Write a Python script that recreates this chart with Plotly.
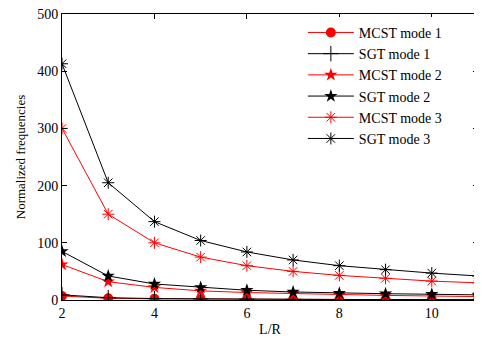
import plotly.graph_objects as go

LR = [2, 3, 4, 5, 6, 7, 8, 9, 10, 11]
mcst_mode1 = [7, 3, 2, 1.5, 1.2, 1.0, 0.8, 0.7, 0.6, 0.5]
sgt_mode1 = [9, 4, 2.5, 1.8, 1.4, 1.1, 0.9, 0.8, 0.7, 0.6]
mcst_mode2 = [62, 32, 22, 16, 13, 11, 9, 8, 7, 6]
sgt_mode2 = [85, 42, 28, 22, 17, 14, 12, 11, 10, 9]
mcst_mode3 = [300, 150, 100, 75, 60, 50, 43, 38, 33, 30]
sgt_mode3 = [413, 205, 137, 104, 84, 70, 60, 53, 47, 42]

RED = "#ff0000"
BLK = "#000000"

series = [
    ("MCST mode 1", mcst_mode1, RED, dict(symbol="circle", size=10, color=RED, line=dict(width=0))),
    ("SGT mode 1", sgt_mode1, BLK, dict(symbol="cross-thin-open", size=11, color=BLK, line=dict(width=1, color=BLK))),
    ("MCST mode 2", mcst_mode2, RED, dict(symbol="star", size=10, color=RED, line=dict(width=0))),
    ("SGT mode 2", sgt_mode2, BLK, dict(symbol="star", size=10, color=BLK, line=dict(width=0))),
    ("MCST mode 3", mcst_mode3, RED, dict(symbol="asterisk-open", size=10, color=RED, line=dict(width=1, color=RED))),
    ("SGT mode 3", sgt_mode3, BLK, dict(symbol="asterisk-open", size=10, color=BLK, line=dict(width=1, color=BLK))),
]

fig = go.Figure()
for name, vals, col, mk in series:
    fig.add_trace(go.Scatter(x=LR, y=vals, mode="lines+markers", name=name,
                             line=dict(color=col, width=1), marker=mk))

font = "Liberation Serif, Times New Roman, serif"
axis_common = dict(showline=True, linecolor="#000", linewidth=1, mirror="allticks",
                   ticks="inside", ticklen=5, tickcolor="#000", showgrid=False,
                   zeroline=False, ticklabeloverflow="allow",
                   tickfont=dict(family=font, size=14, color="#000"))

# page body has an 8px default margin, so the figure is sized to fit inside it
fig.update_layout(
    width=474, height=336,
    margin=dict(l=54, r=4, t=6, b=44, autoexpand=False),
    paper_bgcolor="white", plot_bgcolor="white",
    font=dict(family=font, color="#000"),
    xaxis=dict(range=[2, 11], tickvals=[2, 4, 6, 8, 10],
               title=dict(text="L/R", font=dict(family=font, size=14), standoff=4), **axis_common),
    yaxis=dict(range=[0, 500], tickvals=[0, 100, 200, 300, 400, 500],
               title=dict(text="Normalized frequencies", font=dict(family=font, size=13), standoff=8), **axis_common),
    legend=dict(x=0.579, y=0.99, xanchor="left", yanchor="top",
                bgcolor="white", borderwidth=0, itemwidth=46,
                font=dict(family=font, size=14, color="#000"),
                tracegroupgap=0),
)

fig.write_html("out.html")
